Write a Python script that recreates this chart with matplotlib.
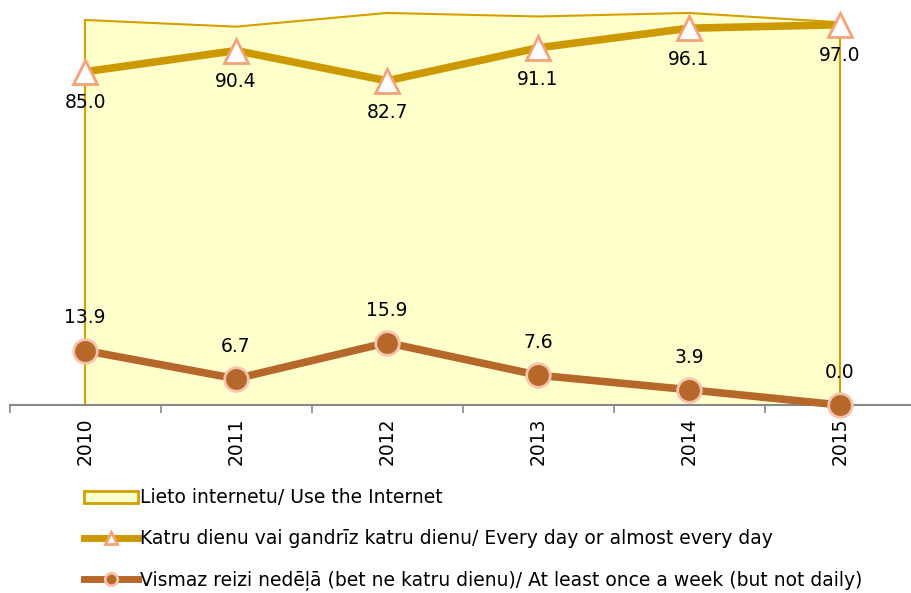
import matplotlib.pyplot as plt
from matplotlib.patches import Patch
from matplotlib.lines import Line2D

# Interneta lietošanas biežums, %
gadi = ['2010', '2011', '2012', '2013', '2014', '2015']
lieto_internetu = [98.2, 96.5, 100.0, 99.1, 100.0, 97.6]
katru_dienu = [85.0, 90.4, 82.7, 91.1, 96.1, 97.0]
reizi_nedela = [13.9, 6.7, 15.9, 7.6, 3.9, 0.0]

nosaukumi = ['Lieto internetu/ Use the Internet',
             'Katru dienu vai gandrīz katru dienu/ Every day or almost every day',
             'Vismaz reizi nedēļā (bet ne katru dienu)/ At least once a week (but not daily)']

c_laukums = '#FFFFCC'
c_mala = '#D4A000'
c_zelts = '#CC9900'
c_bruns = '#B5682A'
c_tri = '#F4A27A'
c_apli = '#F6C3AD'

fig = plt.figure(figsize=(9.11, 5.93), dpi=100)
ax = fig.add_axes([9.5 / 911, 188 / 593, 906 / 911, 405 / 593])

x = list(range(len(gadi)))

ax.fill_between(x, lieto_internetu, 0, color=c_laukums, zorder=1)
ax.plot(x, lieto_internetu, color=c_mala, lw=1.5, zorder=2)
ax.vlines([x[0], x[-1]], 0, [lieto_internetu[0], lieto_internetu[-1]], color=c_mala, lw=1.5, zorder=2)

ax.plot(x, katru_dienu, color=c_zelts, lw=5.5, marker='^', markersize=17,
        markerfacecolor='white', markeredgecolor=c_tri, markeredgewidth=2,
        zorder=4, clip_on=False)
ax.plot(x, reizi_nedela, color=c_bruns, lw=5.5, marker='o', markersize=17,
        markerfacecolor=c_bruns, markeredgecolor=c_apli, markeredgewidth=2,
        zorder=4, clip_on=False)

for xi, v in zip(x, katru_dienu):
    ax.annotate(f'{v:.1f}', (xi, v), xytext=(0, -22.5), textcoords='offset points',
                ha='center', va='center', fontsize=13.5, zorder=5)
for xi, v in zip(x, reizi_nedela):
    ax.annotate(f'{v:.1f}', (xi, v), xytext=(0, 23.5), textcoords='offset points',
                ha='center', va='center', fontsize=13.5, zorder=5)

ax.set_xlim(-0.5, 5.5)
ax.set_ylim(0, 103.3)
ax.set_xticks([i - 0.5 for i in range(7)], minor=False)
ax.set_xticklabels([])
ax.set_xticks(x, minor=True)
ax.set_xticklabels(gadi, minor=True, rotation=90, fontsize=13.5)
ax.tick_params(axis='x', which='major', length=6, width=1.2, color='#888888')
ax.tick_params(axis='x', which='minor', length=0, pad=9)
ax.set_yticks([])
for s in ['left', 'right', 'top']:
    ax.spines[s].set_visible(False)
ax.spines['bottom'].set_color('#888888')
ax.spines['bottom'].set_linewidth(1.5)
ax.spines['bottom'].set_zorder(3)

roktura = [
    Patch(facecolor=c_laukums, edgecolor=c_mala, linewidth=2),
    Line2D([], [], color=c_zelts, lw=5, marker='^', markersize=9,
           markerfacecolor='white', markeredgecolor=c_tri, markeredgewidth=2),
    Line2D([], [], color=c_bruns, lw=5, marker='o', markersize=9,
           markerfacecolor=c_bruns, markeredgecolor=c_apli, markeredgewidth=2),
]
fig.legend(roktura, nosaukumi, loc='upper left', bbox_to_anchor=(75 / 911, 1 - 479 / 593),
           frameon=False, fontsize=13.5, handlelength=2.85, handleheight=0.6,
           handletextpad=0.1, labelspacing=1.18, borderpad=0)

plt.savefig('out.png', dpi=100)
